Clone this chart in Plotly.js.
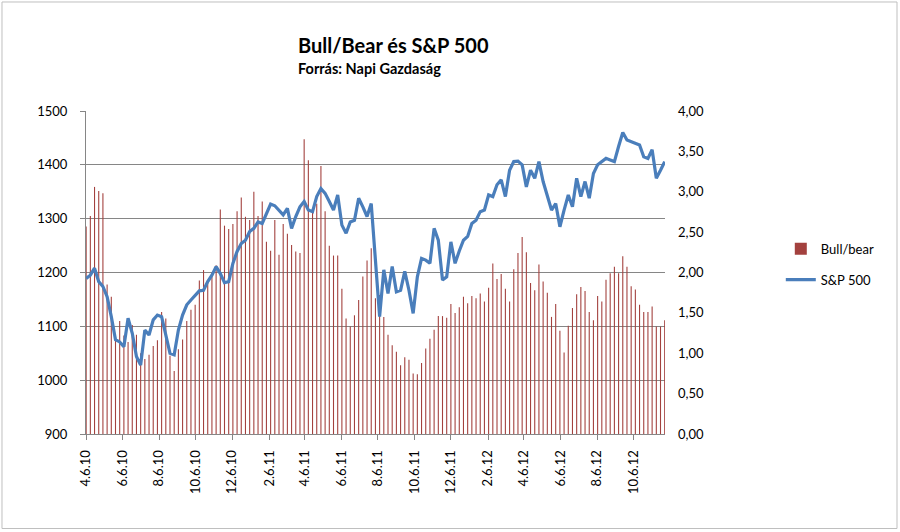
<!DOCTYPE html>
<html>
<head>
<meta charset="utf-8">
<script src="https://cdn.plot.ly/plotly-3.0.1.min.js"></script>
<style>
  html, body { margin: 0; padding: 0; background: #ffffff; }
  #chart { width: 900px; height: 532px; }
</style>
</head>
<body>
<div id="chart"></div>
<script>
// Weekly series, first observation on 6 April 2010
const startDate = '2010-04-06';
const weekMs = 7 * 24 * 3600 * 1000;

// Bull/bear ratio (right axis)
const bullBear = [
  2.57, 2.70, 3.06, 3.01, 2.98, 1.85, 1.70, 1.20, 1.40, 1.22,
  1.14, 1.35, 1.23, 1.00, 0.93, 0.98, 1.09, 1.16, 1.51, 1.43,
  0.97, 0.78, 1.05, 1.17, 1.40, 1.54, 1.60, 1.90, 2.03, 1.90,
  2.00, 2.09, 2.78, 2.58, 2.54, 2.60, 2.76, 2.93, 2.69, 2.65,
  3.00, 2.70, 2.88, 2.38, 2.27, 2.65,
  2.22, 2.60, 2.48, 2.34, 2.26, 2.24, 3.65, 3.39, 2.80, 2.85,
  3.32, 2.76, 2.33, 2.21, 2.21, 1.80, 1.43, 1.33, 1.47, 1.66,
  1.95, 2.15, 2.30, 1.68, 1.72, 1.45, 1.23, 1.10, 1.02, 0.85,
  0.95, 0.92, 0.75, 0.74, 0.88, 1.06, 1.18, 1.29, 1.46, 1.46,
  1.44, 1.61, 1.50, 1.57, 1.70, 1.62,
  1.71, 1.68, 1.74, 1.64, 1.81, 2.11, 1.92, 1.98, 1.80, 1.64,
  2.04, 2.24, 2.44, 2.25, 1.87, 1.78, 2.10, 1.89, 1.75, 1.45,
  1.61, 1.28, 1.01, 1.34, 1.56, 1.73, 1.82, 1.77, 1.51, 1.41,
  1.71, 1.64, 1.91, 1.99, 2.07, 1.99, 2.20, 2.07, 1.83, 1.79,
  1.60, 1.51, 1.51, 1.58, 1.33, 1.33, 1.41
];

// S&P 500 (left axis)
const sp500 = [
  1189, 1195, 1208, 1183, 1174, 1155, 1118, 1075, 1071, 1062,
  1115, 1087, 1044, 1028, 1093, 1084, 1112, 1121, 1118, 1084,
  1050, 1047, 1093, 1121, 1140, 1149, 1158, 1166, 1167, 1183,
  1195, 1211, 1198, 1181, 1183, 1217, 1239, 1254, 1260, 1276,
  1282, 1294, 1291, 1310, 1327, 1324, 1315,
  1307, 1319, 1282, 1304, 1322, 1332, 1316, 1313, 1341, 1356,
  1347, 1332, 1316, 1344, 1288, 1273, 1294, 1297, 1338, 1322,
  1304, 1328, 1229, 1118, 1205, 1161, 1211, 1164, 1167, 1202,
  1167, 1124, 1192, 1226, 1223, 1217, 1282, 1260, 1186, 1192,
  1257, 1217, 1240, 1260, 1267,
  1291, 1297, 1313, 1316, 1344, 1341, 1363, 1372, 1341, 1390,
  1406, 1407, 1400, 1359, 1390, 1375, 1406, 1369, 1341, 1316,
  1328, 1285, 1316, 1344, 1322, 1375, 1341, 1369, 1338, 1384,
  1400, 1406, 1412, 1409, 1406, 1434, 1460, 1446, 1443, 1441,
  1437, 1415, 1412, 1428, 1375, 1390, 1406
];

const seriesNames = ['Bull/bear', 'S&P 500'];
const titleText = 'Bull/Bear és S&P 500';
const subtitleText = 'Forrás: Napi Gazdaság';

const gridGray = '#868686';
const fontFam = 'Lato, "Open Sans", "DejaVu Sans", sans-serif';

const traces = [
  {
    type: 'bar',
    name: seriesNames[0],
    x0: startDate,
    dx: weekMs,
    y: bullBear,
    yaxis: 'y',
    marker: { color: '#A3413E', line: { width: 0 } },
    legendgroup: 'a',
    hoverinfo: 'skip'
  },
  {
    type: 'scatter',
    mode: 'lines',
    name: seriesNames[1],
    x0: startDate,
    dx: weekMs,
    y: sp500,
    yaxis: 'y2',
    line: { color: '#4A7EBB', width: 3.2 },
    legendgroup: 'b',
    hoverinfo: 'skip'
  }
];

const layout = {
  width: 900,
  height: 532,
  margin: { l: 86, r: 235, t: 111, b: 98, pad: 0 },
  paper_bgcolor: '#ffffff',
  plot_bgcolor: '#ffffff',
  font: { family: fontFam, size: 13, color: '#000000' },
  separators: ', ',
  showlegend: true,
  bargap: 0.74,
  legend: {
    x: 1.2, xanchor: 'left',
    y: 0.62, yanchor: 'top',
    font: { family: fontFam, size: 13, color: '#000000' },
    tracegroupgap: 11,
    traceorder: 'grouped',
    bgcolor: 'rgba(0,0,0,0)'
  },
  xaxis: {
    type: 'date',
    range: ['2010-04-05 18:00', '2012-11-27 12:00'],
    tick0: startDate,
    dtick: 'M2',
    tickformat: '%-m.%-d.%y',
    tickangle: -90,
    ticks: 'outside',
    ticklen: 5,
    tickcolor: gridGray,
    ticklabelstandoff: 5,
    showline: true,
    linecolor: gridGray,
    linewidth: 1,
    showgrid: false,
    zeroline: false,
    tickfont: { family: fontFam, size: 13, color: '#000000' }
  },
  yaxis: {
    range: [0, 4],
    tick0: 0,
    dtick: 0.5,
    tickformat: '.2f',
    side: 'right',
    showgrid: false,
    zeroline: false,
    showline: false,
    ticks: '',
    ticklabelstandoff: 12,
    tickfont: { family: fontFam, size: 13, color: '#000000' }
  },
  yaxis2: {
    range: [900, 1500],
    tick0: 900,
    dtick: 100,
    overlaying: 'y',
    side: 'left',
    showgrid: true,
    gridcolor: gridGray,
    gridwidth: 1,
    showline: true,
    linecolor: gridGray,
    linewidth: 1,
    ticks: 'outside',
    ticklen: 5,
    tickcolor: gridGray,
    ticklabelstandoff: 10,
    zeroline: false,
    tickfont: { family: fontFam, size: 13, color: '#000000' }
  },
  annotations: [
    {
      text: '<b>' + titleText + '</b>',
      xref: 'paper', yref: 'paper',
      x: 0.3627, y: 1.2043, xanchor: 'left', yanchor: 'middle',
      showarrow: false,
      font: { family: fontFam, size: 20, color: '#000000' }
    },
    {
      text: '<b>' + subtitleText + '</b>',
      xref: 'paper', yref: 'paper',
      x: 0.3627, y: 1.1331, xanchor: 'left', yanchor: 'middle',
      showarrow: false,
      font: { family: fontFam, size: 14.5, color: '#000000' }
    }
  ],
  shapes: [
    {
      type: 'rect', xref: 'paper', yref: 'paper',
      x0: -0.1451, x1: 1.4007, y0: -0.2926, y1: 1.3375,
      line: { color: '#BFBFBF', width: 1 },
      fillcolor: 'rgba(0,0,0,0)',
      layer: 'below'
    }
  ]
};

Plotly.newPlot('chart', traces, layout, { displayModeBar: false, staticPlot: true });
</script>
</body>
</html>
